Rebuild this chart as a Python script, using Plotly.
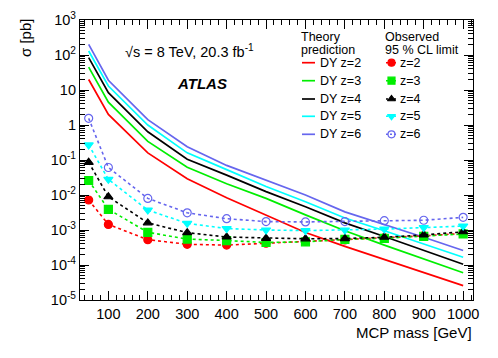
import plotly.graph_objects as go

# ---------------- data ----------------
mass = [50, 100, 200, 300, 400, 500, 600, 700, 800, 900, 1000]

theory_z2 = [20, 2.0, 0.16, 0.029, 0.0083, 0.0027, 0.00085, 3.4e-4, 1.45e-4, 6.1e-5, 2.57e-5]
theory_z3 = [45, 4.5, 0.34, 0.062, 0.021, 0.008, 0.0027, 0.00095, 3.7e-4, 1.5e-4, 6.0e-5]
theory_z4 = [84, 8.4, 0.64, 0.105, 0.037, 0.0125, 0.0046, 0.0016, 6.5e-4, 2.6e-4, 1.05e-4]
theory_z5 = [130, 13, 1.0, 0.16, 0.053, 0.0175, 0.0064, 0.0022, 9.5e-4, 4.0e-4, 1.66e-4]
theory_z6 = [200, 19, 1.42, 0.24, 0.07, 0.027, 0.010, 0.0033, 1.45e-3, 6.2e-4, 2.6e-4]

limit_z2 = [0.0072, 0.00144, 0.00053, 0.00039, 0.00037, 0.00042, 0.00048, 0.00052, 0.00060, 0.00068, 0.00080]
limit_z3 = [0.026, 0.0039, 0.00086, 0.00055, 0.00050, 0.00044, 0.00046, 0.00054, 0.00058, 0.00066, 0.00077]
limit_z4 = [0.086, 0.0089, 0.0016, 0.00084, 0.00063, 0.00058, 0.00056, 0.00057, 0.00062, 0.00072, 0.00089]
limit_z5 = [0.27, 0.028, 0.0037, 0.00155, 0.0011, 0.0010, 0.00096, 0.0010, 0.00106, 0.00117, 0.0013]
limit_z6 = [1.55, 0.061, 0.0080, 0.0031, 0.0021, 0.00174, 0.0017, 0.00174, 0.00185, 0.0019, 0.0023]

charges = ["2", "3", "4", "5", "6"]
colors = ["#ff0000", "#00ee00", "#000000", "#00ffff", "#6666ee"]
symbols = ["circle", "square", "triangle-up", "triangle-down", "circle-open"]

y_tickvals = [1e-5, 1e-4, 1e-3, 1e-2, 1e-1, 1, 10, 100, 1000]
y_ticktext = ["10<sup>-5</sup>", "10<sup>-4</sup>", "10<sup>-3</sup>", "10<sup>-2</sup>",
              "10<sup>-1</sup>", "1", "10", "10<sup>2</sup>", "10<sup>3</sup>"]
x_tickvals = [100, 200, 300, 400, 500, 600, 700, 800, 900, 1000]

theories = [theory_z2, theory_z3, theory_z4, theory_z5, theory_z6]
limits = [limit_z2, limit_z3, limit_z4, limit_z5, limit_z6]

FONT = "Liberation Sans, Arial, Helvetica, sans-serif"

fig = go.Figure()

for z, c, th in zip(charges, colors, theories):
    fig.add_trace(go.Scatter(x=mass, y=th, mode="lines", name="DY z=" + z,
                             line=dict(color=c, width=1.7), showlegend=False))

for z, c, s, lim in zip(charges, colors, symbols, limits):
    fig.add_trace(go.Scatter(x=mass, y=lim, mode="lines+markers", name="z=" + z,
                             line=dict(color=c, width=1.6, dash="3px,3px"),
                             marker=dict(symbol=s, size=8,
                                         color=c, line=dict(color=c, width=1.2)),
                             showlegend=False))

# ---------- manual legend: pixel-space overlay axis ----------
L, R, T, B = 80, 473, 20, 300
W, H = 498, 358


def px(x):
    return (x - L) / (R - L)


def py(y):
    return (B - y) / (B - T)


leg_y = [62.7, 80.7, 99, 116.3, 134.3]
for i, (z, c, s) in enumerate(zip(charges, colors, symbols)):
    fig.add_trace(go.Scatter(x=[302, 315], y=[leg_y[i], leg_y[i]], mode="lines",
                             line=dict(color=c, width=1.7), xaxis="x2", yaxis="y2",
                             showlegend=False, hoverinfo="skip"))
    fig.add_trace(go.Scatter(x=[386, 397], y=[leg_y[i], leg_y[i]], mode="lines",
                             line=dict(color=c, width=1.4, dash="2px,2px"), xaxis="x2", yaxis="y2",
                             showlegend=False, hoverinfo="skip"))
    fig.add_trace(go.Scatter(x=[391.5], y=[leg_y[i]], mode="markers",
                             marker=dict(symbol=s, size=7,
                                         color=c, line=dict(color=c, width=1.2)),
                             xaxis="x2", yaxis="y2", showlegend=False, hoverinfo="skip"))
    fig.add_annotation(x=px(317.5), y=py(leg_y[i]), xref="paper", yref="paper", text="DY z=" + z,
                       showarrow=False, xanchor="left", yanchor="middle",
                       font=dict(family=FONT, size=12.5, color="black"))
    fig.add_annotation(x=px(398), y=py(leg_y[i]), xref="paper", yref="paper", text="z=" + z,
                       showarrow=False, xanchor="left", yanchor="middle",
                       font=dict(family=FONT, size=12.5, color="black"))

header_rows = [("Theory", "Observed", 37), ("prediction", "95 % CL limit", 50.5)]
for left_txt, right_txt, yy in header_rows:
    fig.add_annotation(x=px(299), y=py(yy), xref="paper", yref="paper", text=left_txt,
                       showarrow=False, xanchor="left", yanchor="middle",
                       font=dict(family=FONT, size=12.5, color="black"))
    fig.add_annotation(x=px(383), y=py(yy), xref="paper", yref="paper", text=right_txt,
                       showarrow=False, xanchor="left", yanchor="middle",
                       font=dict(family=FONT, size=12.5, color="black"))

fig.add_annotation(x=px(123), y=py(51), xref="paper", yref="paper",
                   text="√s = 8 TeV, 20.3 fb<sup>-1</sup>",
                   showarrow=False, xanchor="left", yanchor="middle",
                   font=dict(family=FONT, size=14.5, color="black"))
fig.add_annotation(x=px(202), y=py(83), xref="paper", yref="paper",
                   text="<b><i>ATLAS</i></b>",
                   showarrow=False, xanchor="center", yanchor="middle",
                   font=dict(family=FONT, size=15, color="black"))

# axis titles
fig.add_annotation(x=px(474), y=py(332), xref="paper", yref="paper", text="MCP mass [GeV]",
                   showarrow=False, xanchor="right", yanchor="middle",
                   font=dict(family=FONT, size=15, color="black"))
fig.add_annotation(x=px(25), y=py(38), xref="paper", yref="paper", text="σ [pb]",
                   showarrow=False, textangle=-90, xanchor="center", yanchor="middle",
                   font=dict(family=FONT, size=15, color="black"))

x_minor = [v for v in range(40, 1021, 20) if v % 100 != 0]
y_minor = [m * 10.0 ** k for k in range(-5, 3) for m in range(2, 10)]

fig.update_layout(
    width=W, height=H,
    margin=dict(l=L, r=W - R, t=T, b=H - B, autoexpand=False),
    paper_bgcolor="white", plot_bgcolor="white",
    font=dict(family=FONT, size=14, color="black"),
    showlegend=False,
    xaxis=dict(range=[28, 1025], tickmode="array", tickvals=x_tickvals, ticks="inside", ticklen=9,
               tickwidth=1, tickcolor="black", showline=True, linecolor="black",
               linewidth=1.2, mirror="allticks", showgrid=False, zeroline=False,
               automargin=False, tickfont=dict(size=14.5),
               minor=dict(tickmode="array", tickvals=x_minor, ticks="inside", ticklen=5,
                          tickcolor="black", showgrid=False)),
    yaxis=dict(type="log", range=[-5, 3], tickmode="array", tickvals=y_tickvals, ticktext=y_ticktext,
               ticks="inside", ticklen=9, tickwidth=1, tickcolor="black",
               showline=True, linecolor="black", linewidth=1.2, mirror="allticks",
               showgrid=False, zeroline=False, automargin=False, tickfont=dict(size=14.5),
               minor=dict(tickmode="array", tickvals=y_minor, ticks="inside", ticklen=5,
                          tickcolor="black", showgrid=False)),
    xaxis2=dict(range=[L, R], overlaying="x", visible=False, fixedrange=True, automargin=False),
    yaxis2=dict(range=[B, T], overlaying="y", visible=False, fixedrange=True, automargin=False),
)

fig.write_html("out.html", config={"displayModeBar": False},
               post_script="document.body.style.margin='0px';document.body.style.overflow='hidden';")
